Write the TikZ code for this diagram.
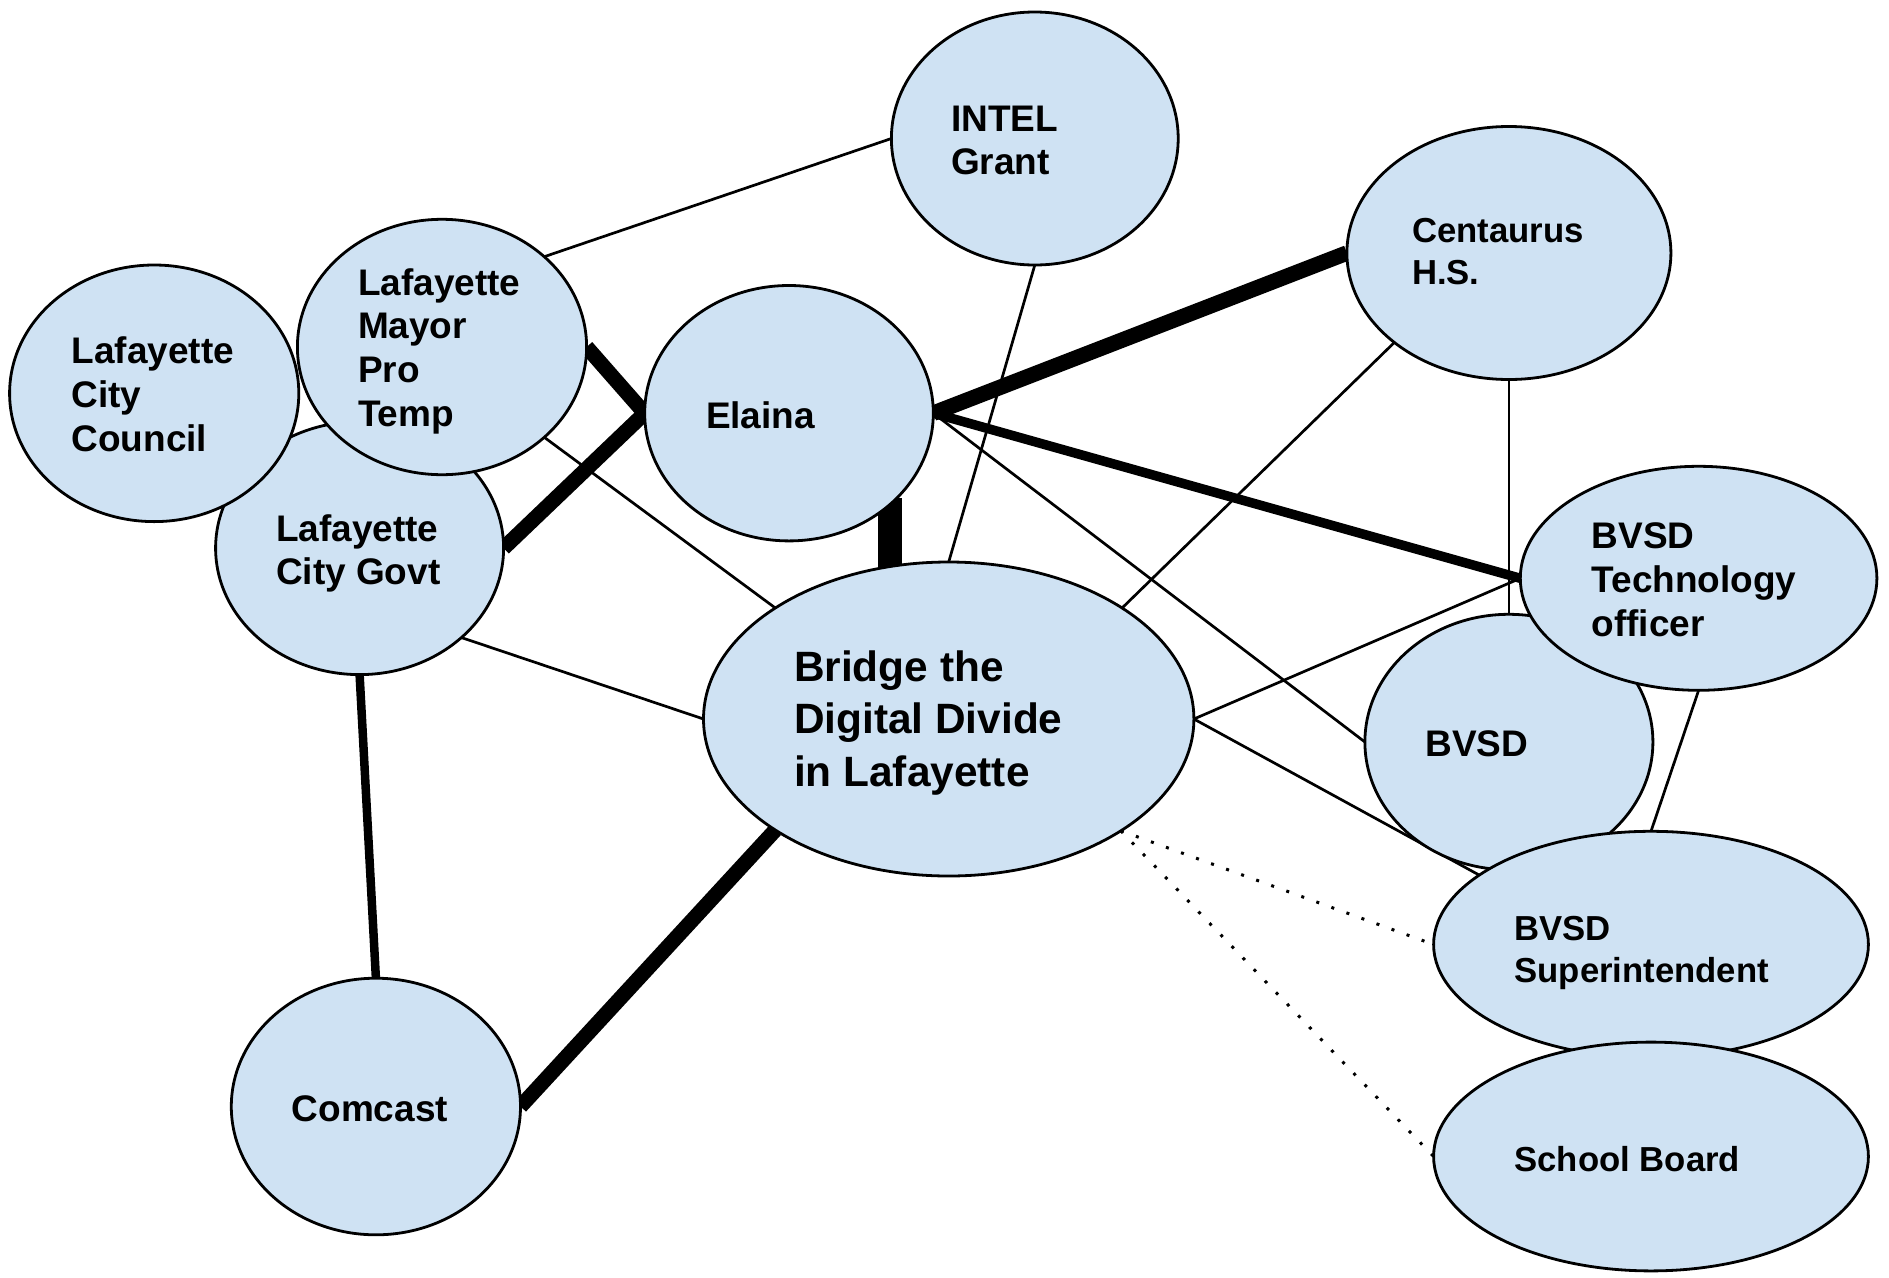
\documentclass[tikz,border=0pt]{standalone}
\usepackage{fontspec}
\setmainfont{Liberation Sans}
\usetikzlibrary{shapes.geometric,backgrounds}
\definecolor{nodeblue}{RGB}{207,226,243}
\begin{document}
\begin{tikzpicture}[x=1pt,y=-1pt,
  ell/.style={ellipse,draw=black,line width=2.8pt,fill=nodeblue,inner sep=0pt,outer sep=0pt},
  txt/.style={anchor=base west,inner sep=0pt,outer sep=0pt,align=left,font=\fontsize{37pt}{43.6pt}\selectfont\bfseries},
  txtsmall/.style={txt,font=\fontsize{34.7pt}{42pt}\selectfont\bfseries},
  txtbig/.style={txt,font=\fontsize{42.4pt}{52.4pt}\selectfont\bfseries},
  thinline/.style={line width=2.7pt,line cap=butt},
  medline/.style={line width=8.5pt,line cap=butt},
  heavyline/.style={line width=15pt,line cap=butt},
  barline/.style={line width=24pt,line cap=butt},
  dotline/.style={line width=3pt,line cap=butt,dash pattern=on 3pt off 13pt}
]
\useasboundingbox (0,0) rectangle (1889,1277);
% ellipses (drawing order matters for overlaps)
\node[ell,minimum width=286.8pt,minimum height=253pt] (intel) at (1034.8,138.5) {};
\node[ell,minimum width=324pt,minimum height=253pt] (centaurus) at (1508.9,253) {};
\node[ell,minimum width=288pt,minimum height=253pt] (govt) at (359.6,548.1) {};
\node[ell,minimum width=289.2pt,minimum height=256.6pt] (council) at (154.2,393.3) {};
\node[ell,minimum width=289.2pt,minimum height=255.4pt] (mayor) at (442,347) {};
\node[ell,minimum width=288.6pt,minimum height=255.4pt] (elaina) at (789,413.2) {};
\node[ell,minimum width=490.4pt,minimum height=314pt] (bridge) at (948.7,719) {};
\node[ell,minimum width=288pt,minimum height=255.4pt] (bvsd) at (1508.9,742) {};
\node[ell,minimum width=356.6pt,minimum height=224pt] (tech) at (1698.6,578.3) {};
\node[ell,minimum width=434.8pt,minimum height=226.4pt] (super) at (1651,944.5) {};
\node[ell,minimum width=434.8pt,minimum height=228.8pt] (school) at (1651,1156.5) {};
\node[ell,minimum width=289.2pt,minimum height=256.6pt] (comcast) at (375.9,1106.5) {};
% texts (base anchor = baseline of the last line)
\node[txt] (tintel) at (951,174.9) {INTEL\\Grant};
\node[txtsmall] (tcent) at (1412,284.5) {Centaurus\\H.S.};
\node[txt] (tmayor) at (358,426) {Lafayette\\Mayor\\Pro\\Temp};
\node[txt] (tcouncil) at (71.5,451.1) {Lafayette\\City\\Council};
\node[txt] (telaina) at (706,428.5) {Elaina};
\node[txt] (tgovt) at (276,584.6) {Lafayette\\City Govt};
\node[txtbig] (tbridge) at (794,786.2) {Bridge the\\Digital Divide\\in Lafayette};
\node[txt] (ttech) at (1591.6,636) {BVSD\\Technology\\officer};
\node[txt] (tbvsd) at (1425.4,756.6) {BVSD};
\node[txtsmall] (tsuper) at (1514.5,982) {BVSD\\Superintendent};
\node[txtsmall] (tschool) at (1514.5,1171.3) {School Board};
\node[txt] (tcomcast) at (291.7,1121.6) {Comcast};
\coordinate (barTop) at (890,498);
\coordinate (barBot) at (890,572);
% connectors beneath the ellipses
\begin{scope}[on background layer]
\draw[thinline] (intel.west) -- (mayor.north east);
\draw[thinline] (intel.south) -- (bridge.north);
\draw[heavyline] (mayor.east) -- (elaina.west);
\draw[heavyline] (govt.east) -- (elaina.west);
\draw[heavyline,line width=15.5pt] (elaina.east) -- (centaurus.west);
\draw[medline,line width=9.5pt] (elaina.east) -- (tech.west);
\draw[thinline] (elaina.east) -- (bvsd.west);
\draw[barline] (barTop) -- (barBot);
\draw[thinline] (mayor.south east) -- (bridge.north west);
\draw[thinline] (govt.south east) -- (bridge.west);
\draw[medline] (govt.south) -- (comcast.north);
\draw[heavyline] (comcast.east) -- (bridge.south west);
\draw[thinline] (centaurus.south west) -- (bridge.north east);
\draw[thinline] (centaurus.south) -- (bvsd.north);
\draw[thinline] (bridge.east) -- (tech.west);
\draw[thinline] (bridge.east) -- (super.158);
\draw[thinline] (tech.south) -- (super.north);
\draw[dotline] (bridge.-33) -- (super.west);
\draw[dotline] (bridge.-33) -- (school.west);
\end{scope}
\end{tikzpicture}
\end{document}
